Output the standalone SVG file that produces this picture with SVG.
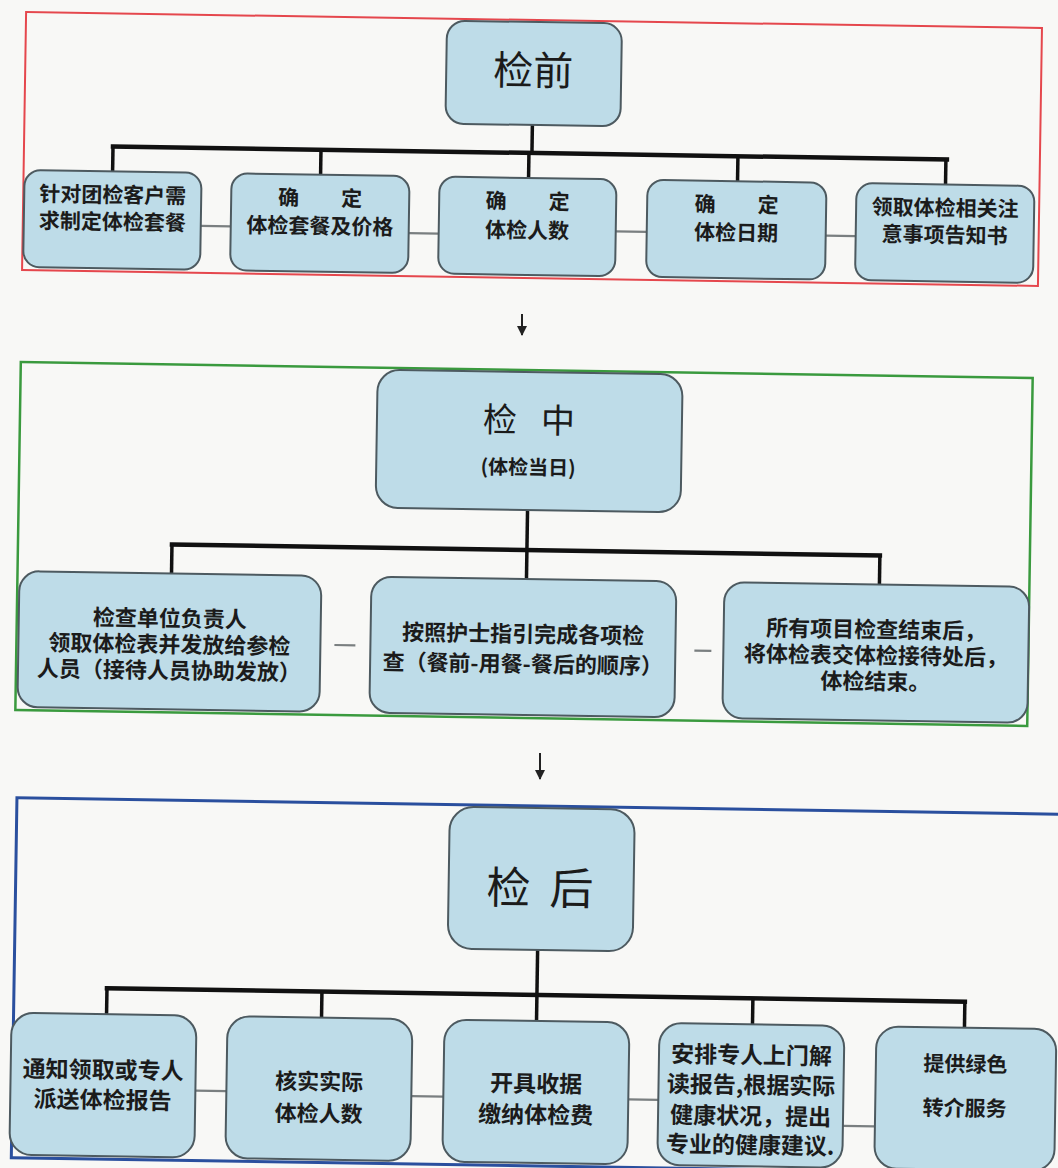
<svg xmlns="http://www.w3.org/2000/svg" width="1058" height="1168" viewBox="0 0 1058 1168">
<defs>
<style>
.bg{fill:#f8f8f6}
.node rect{fill:#bedce8;stroke:#4d5a60;stroke-width:2}
.t{font-family:"Noto Sans CJK SC","Noto Sans",sans-serif;fill:#1b1b1b;text-anchor:middle;dominant-baseline:central}
.b{font-weight:bold}
.bar{stroke:#111;stroke-width:4.5;fill:none;stroke-linecap:square}
.drop{stroke:#111;stroke-width:3.5;fill:none}
.dash{stroke:#7a7f80;stroke-width:2.2;fill:none}
.arrow{stroke:#222;stroke-width:2;fill:none}
</style>
<marker id="ah" viewBox="0 0 10 10" refX="9" refY="5" markerWidth="5" markerHeight="5" orient="auto" markerUnits="strokeWidth">
<path d="M0,0 L10,5 L0,10 z" fill="#222"/>
</marker>
</defs>
<rect class="bg" x="0" y="0" width="1058" height="1168"/>

<g id="frames" fill="none">
<rect transform="rotate(0.9 532 150)" x="24" y="20" width="1016" height="258" stroke="#e5474d" stroke-width="2"/>
<rect transform="rotate(0.9 525 545)" x="18" y="370" width="1012" height="348" stroke="#3a9a3e" stroke-width="2.5"/>
<rect transform="rotate(0.9 537 990)" x="14" y="806" width="1075" height="360" stroke="#2a4f9e" stroke-width="3"/>
</g>

<g id="connectors">
<g transform="rotate(0.9 532 150)">
<line class="drop" x1="532" y1="125" x2="532" y2="153"/>
<line class="bar" x1="113" y1="153" x2="947" y2="153"/>
<line class="drop" x1="113" y1="153" x2="113" y2="179"/>
<line class="drop" x1="321" y1="153" x2="321" y2="179"/>
<line class="drop" x1="529" y1="153" x2="529" y2="179"/>
<line class="drop" x1="738" y1="153" x2="738" y2="179"/>
<line class="drop" x1="946" y1="153" x2="946" y2="179"/>
<line class="dash" x1="202" y1="231" x2="232" y2="231"/>
<line class="dash" x1="410" y1="235" x2="440" y2="235"/>
<line class="dash" x1="617" y1="230" x2="648" y2="230"/>
<line class="dash" x1="827" y1="231" x2="857" y2="231"/>
</g>
<line class="arrow" x1="522" y1="314" x2="522" y2="335" marker-end="url(#ah)"/>
<g transform="rotate(0.9 525 545)">
<line class="drop" x1="527" y1="510" x2="527" y2="550"/>
<line class="bar" x1="172" y1="550" x2="880" y2="550"/>
<line class="drop" x1="172" y1="550" x2="172" y2="580"/>
<line class="drop" x1="527" y1="550" x2="527" y2="580"/>
<line class="drop" x1="880" y1="550" x2="880" y2="580"/>
<line class="dash" x1="336" y1="648" x2="357" y2="648"/>
<line class="dash" x1="696" y1="648" x2="713" y2="648"/>
</g>
<line class="arrow" x1="540" y1="753" x2="540" y2="779" marker-end="url(#ah)"/>
<g transform="rotate(0.9 537 990)">
<line class="drop" x1="537" y1="950" x2="537" y2="995"/>
<line class="bar" x1="107" y1="995" x2="965" y2="995"/>
<line class="drop" x1="107" y1="995" x2="107" y2="1022"/>
<line class="drop" x1="322" y1="995" x2="322" y2="1022"/>
<line class="drop" x1="537" y1="995" x2="537" y2="1022"/>
<line class="drop" x1="753" y1="995" x2="753" y2="1022"/>
<line class="drop" x1="965" y1="995" x2="965" y2="1022"/>
<line class="dash" x1="197" y1="1096" x2="228" y2="1096"/>
<line class="dash" x1="413" y1="1098" x2="445" y2="1098"/>
<line class="dash" x1="630" y1="1098" x2="660" y2="1098"/>
<line class="dash" x1="845" y1="1121" x2="877" y2="1121"/>
</g>
</g>

<g id="n-jianqian" class="node" transform="rotate(0.9 532 150)">
<rect x="445" y="22" width="175" height="103" rx="18"/>
<text class="t" x="532" y="68" font-size="40">检前</text>
</g>
<g id="n1-1" class="node" transform="rotate(0.9 532 150)">
<rect x="25" y="178" width="177" height="97" rx="16"/>
<text class="t b" font-size="21"><tspan x="113.5" y="200">针对团检客户需</tspan><tspan x="113.5" y="227">求制定体检套餐</tspan></text>
</g>
<g id="n1-2" class="node" transform="rotate(0.9 532 150)">
<rect x="232" y="178" width="178" height="97" rx="16"/>
<text class="t b" font-size="21"><tspan x="321" y="200">确　　定</tspan><tspan x="321" y="228">体检套餐及价格</tspan></text>
</g>
<g id="n1-3" class="node" transform="rotate(0.9 532 150)">
<rect x="440" y="178" width="177" height="97" rx="16"/>
<text class="t b" font-size="21"><tspan x="528.5" y="200">确　　定</tspan><tspan x="528.5" y="229">体检人数</tspan></text>
</g>
<g id="n1-4" class="node" transform="rotate(0.9 532 150)">
<rect x="648" y="178" width="179" height="97" rx="16"/>
<text class="t b" font-size="21"><tspan x="737.5" y="200">确　　定</tspan><tspan x="737.5" y="228">体检日期</tspan></text>
</g>
<g id="n1-5" class="node" transform="rotate(0.9 532 150)">
<rect x="857" y="178" width="178" height="97" rx="16"/>
<text class="t b" font-size="21"><tspan x="946" y="200">领取体检相关注</tspan><tspan x="946" y="227">意事项告知书</tspan></text>
</g>

<g id="n-jianzhong" class="node" transform="rotate(0.9 525 545)">
<rect x="375" y="372" width="305" height="138" rx="22"/>
<text class="t" font-size="34" x="498 527 556" y="418">检 中</text>
<text class="t b" font-size="20" x="527" y="466">(体检当日)</text>
</g>
<g id="n2-1" class="node" transform="rotate(0.9 525 545)">
<rect x="20" y="579" width="302" height="136" rx="20"/>
<text class="t b" font-size="22"><tspan x="171" y="622">检查单位负责人</tspan><tspan x="171" y="648">领取体检表并发放给参检</tspan><tspan x="171" y="674">人员（接待人员协助发放）</tspan></text>
</g>
<g id="n2-2" class="node" transform="rotate(0.9 525 545)">
<rect x="372" y="579" width="305" height="136" rx="20"/>
<text class="t b" font-size="22"><tspan x="524.5" y="632">按照护士指引完成各项检</tspan><tspan x="524.5" y="662">查（餐前-用餐-餐后的顺序）</tspan></text>
</g>
<g id="n2-3" class="node" transform="rotate(0.9 525 545)">
<rect x="725" y="579" width="305" height="136" rx="20"/>
<text class="t b" font-size="22"><tspan x="877.5" y="622">所有项目检查结束后，</tspan><tspan x="877.5" y="648">将体检表交体检接待处后，</tspan><tspan x="877.5" y="674">体检结束。</tspan></text>
</g>

<g id="n-jianhou" class="node" transform="rotate(0.9 537 990)">
<rect x="447" y="808" width="185" height="142" rx="24"/>
<text class="t" font-size="44" x="507 538 570" y="885">检 后</text>
</g>
<g id="n3-1" class="node" transform="rotate(0.9 537 990)">
<rect x="12" y="1021" width="185" height="142" rx="22"/>
<text class="t b" font-size="23"><tspan x="104.5" y="1075">通知领取或专人</tspan><tspan x="104.5" y="1105">派送体检报告</tspan></text>
</g>
<g id="n3-2" class="node" transform="rotate(0.9 537 990)">
<rect x="228" y="1021" width="185" height="142" rx="22"/>
<text class="t b" font-size="22"><tspan x="320.5" y="1083">核实实际</tspan><tspan x="320.5" y="1115">体检人数</tspan></text>
</g>
<g id="n3-3" class="node" transform="rotate(0.9 537 990)">
<rect x="445" y="1021" width="185" height="142" rx="22"/>
<text class="t b" font-size="23"><tspan x="537.5" y="1082">开具收据</tspan><tspan x="537.5" y="1113">缴纳体检费</tspan></text>
</g>
<g id="n3-4" class="node" transform="rotate(0.9 537 990)">
<rect x="660" y="1021" width="185" height="142" rx="22"/>
<text class="t b" font-size="23"><tspan x="752.5" y="1050">安排专人上门解</tspan><tspan x="752.5" y="1080">读报告,根据实际</tspan><tspan x="752.5" y="1111">健康状况，提出</tspan><tspan x="752.5" y="1140">专业的健康建议.</tspan></text>
</g>
<g id="n3-5" class="node" transform="rotate(0.9 537 990)">
<rect x="877" y="1021" width="180" height="142" rx="22"/>
<text class="t b" font-size="21"><tspan x="966.5" y="1056">提供绿色</tspan><tspan x="966.5" y="1100">转介服务</tspan></text>
</g>
</svg>
